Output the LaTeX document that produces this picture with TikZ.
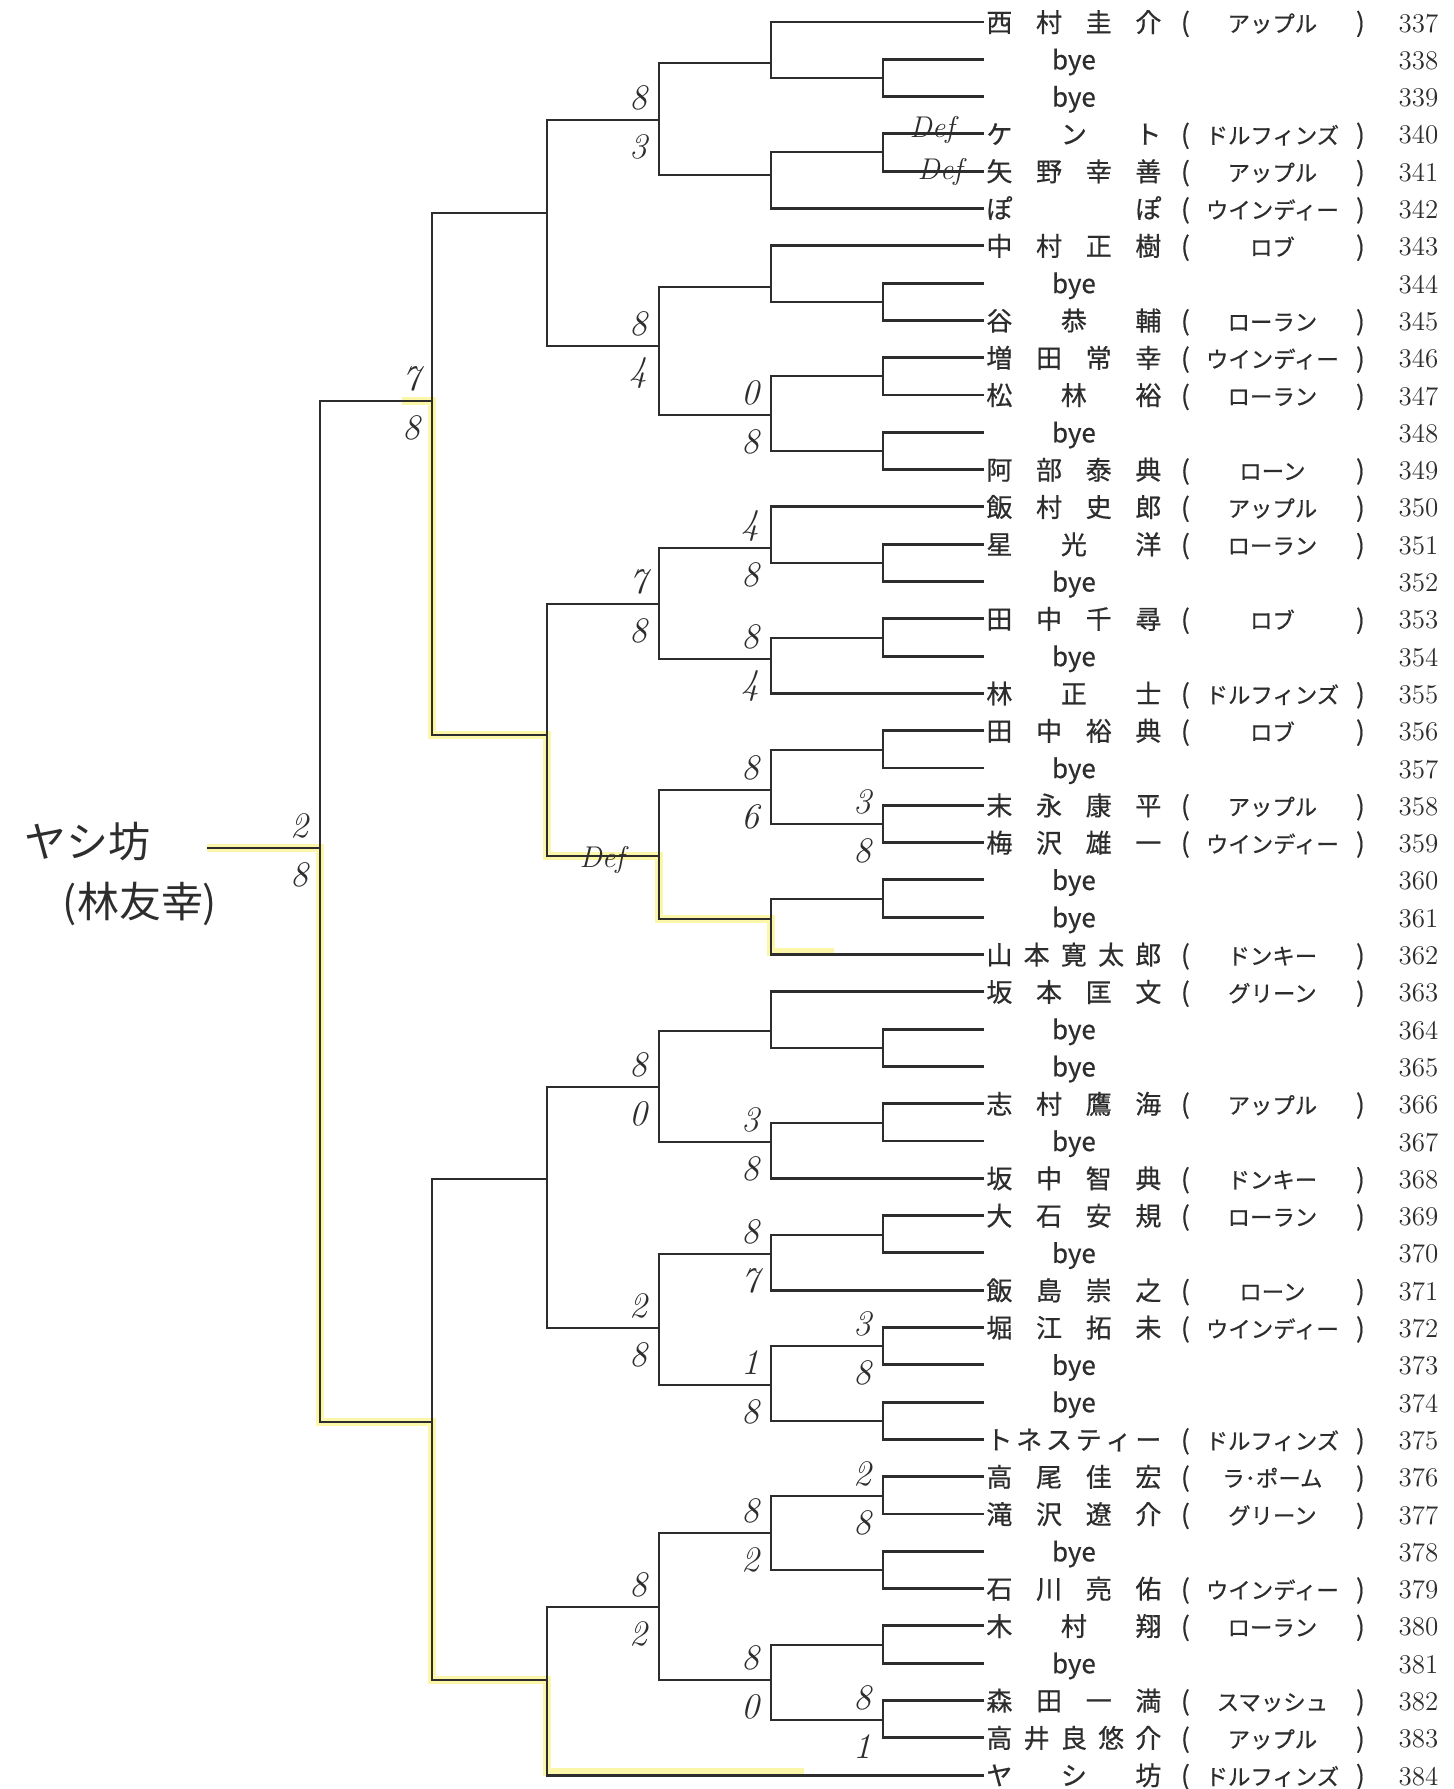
\documentclass[tikz,border=0pt]{standalone}
\usepackage{fontspec}
\usepackage{tikz}
\usetikzlibrary{calc,positioning,backgrounds}
\newfontfamily\jp{Noto Sans CJK JP}[FakeBold=0.6]
\newfontfamily\jpsign{Noto Sans CJK JP}
\definecolor{inkgray}{RGB}{45,45,45}
\definecolor{marker}{RGB}{250,242,110}

\newcommand\numfont{\rmfamily\fontsize{13.5}{14}\selectfont}
\newcommand\teamfont{\fontsize{11.2}{11}\selectfont}
\newcommand\player[3]{%
  \pgfmathtruncatemacro\plno{337+#1}%
  \coordinate (p#1) at (984,{22+37.3*#1});
  \node[entry] (n#1) at (p#1) {\makebox[87.5pt][s]{\spaceskip=0pt plus 1fil\relax #2}\makebox[24pt]{(}\makebox[63pt]{\teamfont #3}\makebox[25pt]{)}\makebox[33pt]{\numfont\plno}};}
\newcommand\byerow[1]{%
  \pgfmathtruncatemacro\plno{337+#1}%
  \coordinate (p#1) at (984,{22+37.3*#1});
  \node[entry] (n#1) at (p#1) {\makebox[87.5pt]{bye}\makebox[112pt]{}\makebox[33pt]{\numfont\plno}};}
\newcommand\match[5]{%
  \coordinate (#1) at (#2,#3);
  \draw[wire] (#4) -| (#1) |- (#5);}
\newcommand\sco[3]{%
  \node[hand] (#1u) at ($(#1)+(-21,-22)$) {#2};
  \node[hand] (#1l) at ($(#1)+(-21,27)$) {#3};}

\begin{document}
\begin{tikzpicture}[x=0.5pt, y=-0.5pt,
  wire/.style={draw=inkgray, line width=1.45pt},
  hl/.style={draw=marker, line width=4pt, opacity=0.6},
  entry/.style={anchor=base west, inner sep=0pt, xshift=1pt, yshift=-5pt, text=inkgray, font=\jp\fontsize{13}{13}\selectfont},
  hand/.style={inner sep=0pt, text=inkgray, font=\fontsize{18}{18}\selectfont\itshape},
  defmark/.style={hand, font=\fontsize{15}{15}\selectfont\itshape},
  sign/.style={inner sep=0pt, text=inkgray, font=\jpsign\fontsize{21}{21}\selectfont}
]
\useasboundingbox (0,0) rectangle (1453,1789);

\player{0}{西 村 圭 介}{アップル}
\byerow{1}
\byerow{2}
\player{3}{ケ ン ト}{ドルフィンズ}
\player{4}{矢 野 幸 善}{アップル}
\player{5}{ぽ ぽ}{ウインディー}
\player{6}{中 村 正 樹}{ロブ}
\byerow{7}
\player{8}{谷 恭 輔}{ローラン}
\player{9}{増 田 常 幸}{ウインディー}
\player{10}{松 林 裕}{ローラン}
\byerow{11}
\player{12}{阿 部 泰 典}{ローン}
\player{13}{飯 村 史 郎}{アップル}
\player{14}{星 光 洋}{ローラン}
\byerow{15}
\player{16}{田 中 千 尋}{ロブ}
\byerow{17}
\player{18}{林 正 士}{ドルフィンズ}
\player{19}{田 中 裕 典}{ロブ}
\byerow{20}
\player{21}{末 永 康 平}{アップル}
\player{22}{梅 沢 雄 一}{ウインディー}
\byerow{23}
\byerow{24}
\player{25}{山 本 寛 太 郎}{ドンキー}
\player{26}{坂 本 匡 文}{グリーン}
\byerow{27}
\byerow{28}
\player{29}{志 村 鷹 海}{アップル}
\byerow{30}
\player{31}{坂 中 智 典}{ドンキー}
\player{32}{大 石 安 規}{ローラン}
\byerow{33}
\player{34}{飯 島 崇 之}{ローン}
\player{35}{堀 江 拓 未}{ウインディー}
\byerow{36}
\byerow{37}
\player{38}{ト ネ ス テ ィ ー}{ドルフィンズ}
\player{39}{高 尾 佳 宏}{ラ･ポーム}
\player{40}{滝 沢 遼 介}{グリーン}
\byerow{41}
\player{42}{石 川 亮 佑}{ウインディー}
\player{43}{木 村 翔}{ローラン}
\byerow{44}
\player{45}{森 田 一 満}{スマッシュ}
\player{46}{高 井 良 悠 介}{アップル}
\player{47}{ヤ シ 坊}{ドルフィンズ}

\match{a1}{883}{78}{p1}{p2}
\match{a2}{771}{63}{p0}{a1}
\match{a3}{883}{152}{p3}{p4}
\match{a4}{771}{175}{a3}{p5}
\match{a5}{659}{120}{a2}{a4}
\match{b1}{883}{302}{p7}{p8}
\match{b2}{771}{287}{p6}{b1}
\match{b3}{883}{376}{p9}{p10}
\match{b4}{883}{451}{p11}{p12}
\match{b5}{771}{415}{b3}{b4}
\match{b6}{659}{346}{b2}{b5}
\match{ab}{547}{213}{a5}{b6}
\match{c1}{883}{563}{p14}{p15}
\match{c2}{771}{548}{p13}{c1}
\match{c3}{883}{638}{p16}{p17}
\match{c4}{771}{659}{c3}{p18}
\match{c5}{659}{604}{c2}{c4}
\match{d1}{883}{750}{p19}{p20}
\match{d2}{883}{824}{p21}{p22}
\match{d3}{771}{790}{d1}{d2}
\match{d4}{883}{899}{p23}{p24}
\match{d5}{771}{919}{d4}{p25}
\match{d6}{659}{856}{d3}{d5}
\match{cd}{547}{735}{c5}{d6}
\match{top}{432}{401}{ab}{cd}
\match{e1}{883}{1048}{p27}{p28}
\match{e2}{771}{1031}{p26}{e1}
\match{e3}{883}{1123}{p29}{p30}
\match{e4}{771}{1142}{e3}{p31}
\match{e5}{659}{1087}{e2}{e4}
\match{f1}{883}{1235}{p32}{p33}
\match{f2}{771}{1254}{f1}{p34}
\match{f3}{883}{1346}{p35}{p36}
\match{f4}{883}{1421}{p37}{p38}
\match{f5}{771}{1385}{f3}{f4}
\match{f6}{659}{1328}{f2}{f5}
\match{ef}{547}{1179}{e5}{f6}
\match{g1}{883}{1496}{p39}{p40}
\match{g2}{883}{1570}{p41}{p42}
\match{g3}{771}{1533}{g1}{g2}
\match{h1}{883}{1645}{p43}{p44}
\match{h2}{883}{1720}{p45}{p46}
\match{h3}{771}{1680}{h1}{h2}
\match{gh}{659}{1607}{g3}{h3}
\match{ghy}{547}{1680}{gh}{p47}
\match{bot}{432}{1422}{ef}{ghy}
\match{root}{320}{848}{top}{bot}
\coordinate (rootend) at (207,848);
\draw[wire] (root) -- (rootend);

\begin{scope}[on background layer]
  \draw[hl] ($(p25)+(-150,-3)$) -| (d5) -| (d6) -| (cd) -| (top) -- ++(-30,0);
  \draw[hl] ($(p47)+(-180,-3)$) -| (ghy) -| (bot) -| (root) -- (rootend);
\end{scope}

\sco{a5}{8}{3}
\sco{b6}{8}{4}
\sco{b5}{0}{8}
\sco{top}{7}{8}
\sco{c2}{4}{8}
\sco{c4}{8}{4}
\sco{c5}{7}{8}
\sco{d3}{8}{6}
\sco{d2}{3}{8}
\sco{root}{2}{8}
\sco{e5}{8}{0}
\sco{e4}{3}{8}
\sco{f2}{8}{7}
\sco{f3}{3}{8}
\sco{f5}{1}{8}
\sco{f6}{2}{8}
\sco{g1}{2}{8}
\sco{g3}{8}{2}
\sco{gh}{8}{2}
\sco{h2}{8}{1}
\sco{h3}{8}{0}

\node[defmark] (defk) at ($(p3)+(-52,-4)$) {Def};
\node[defmark] (defy) at ($(p4)+(-44,1)$) {Def};
\node[defmark] (defd) at ($(d6)+(-57,4)$) {Def};

\node[sign] (sign1) at (88,842) {ヤシ坊};
\node[sign] (sign2) at (140,904) {(林友幸)};
\end{tikzpicture}
\end{document}
